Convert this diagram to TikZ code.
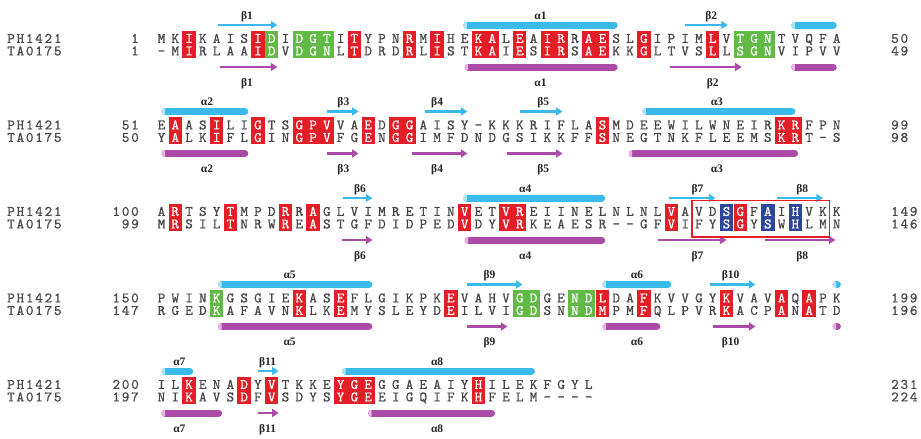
\documentclass[tikz,border=0pt]{standalone}
\usepackage{fontspec}
\usetikzlibrary{arrows.meta}
\newfontfamily\seqfont{lmmono10-regular.otf}[FakeBold=0.7]
\newfontfamily\namefont{lmmono10-regular.otf}[LetterSpace=12,FakeBold=0.7]
\newfontfamily\labfont{Liberation Serif}

\definecolor{consred}{RGB}{228,30,38}
\definecolor{consgreen}{RGB}{98,186,70}
\definecolor{consblue}{RGB}{44,70,158}
\definecolor{topc}{RGB}{58,186,232}
\definecolor{toplt}{RGB}{175,228,248}
\definecolor{botc}{RGB}{172,74,168}
\definecolor{botlt}{RGB}{236,178,226}
\definecolor{seqgray}{RGB}{70,70,70}

% x position of alignment column #1
\newcommand\cx[1]{161.5+(#1-1)*13.78}

% one row of residues: y, first column, style, letters ('.' = left to a shaded block)
\newcount\seqcol
\newcommand\seqrow[4]{%
  \seqcol=#2\relax
  \def\seqy{#1}%
  \tikzset{seqcur/.style={#3}}%
  \seqloop#4\relax}
\def\seqloop#1{\ifx#1\relax\else
  \ifx#1.\else\node[seqcur] at ({\cx{\the\seqcol}},{\seqy}) {#1};\fi
  \advance\seqcol by 1\relax
  \expandafter\seqloop\fi}

% shaded block over both rows: y0, first col, last col, colour, upper, lower
\newcommand\consbox[6]{%
  \fill[#4] ({\cx{#2}-6.7},{#1-7.8}) rectangle ({\cx{#3}+6.7},{#1+19});
  \seqrow{#1}{#2}{boxtxt}{#5}%
  \seqrow{#1+12.5}{#2}{boxtxt}{#6}}

% helix cylinder: y, from col, to col, colour, light end colour
\newcommand\helix[5]{%
  \draw[line width=7pt, line cap=round, #4] ({\cx{#2}+3.5},{#1}) -- ({\cx{#3}-3.5},{#1});
  \fill[#5] ({\cx{#2}+3.5},{#1}) ++(0,-3.5) arc[start angle=90, end angle=270, radius=3.5pt] -- cycle;}

% beta strand arrow: y, from col, to col, colour
\newcommand\strand[4]{%
  \draw[line width=2.6pt, #4, -{Triangle[length=6.5pt,width=8pt]}] ({\cx{#2}},{#1}) -- ({\cx{#3}},{#1});}

% structure label: y, col, text
\newcommand\sslabel[3]{\node[sslab] at ({\cx{#2}},{#1}) {#3};}

\tikzset{
  seqtxt/.style={font=\seqfont\fontsize{14.5}{14.5}\selectfont, text=seqgray,
    anchor=base, yshift=-4.4pt, inner sep=0pt},
  boxtxt/.style={seqtxt, text=white},
  namefnt/.style={font=\namefont\fontsize{14.5}{14.5}\selectfont, text=seqgray,
    anchor=base west, yshift=-4.4pt, inner sep=0pt},
  numl/.style={namefnt, anchor=base east},
  numr/.style={namefnt, anchor=base west},
  sslab/.style={font=\labfont\bfseries\fontsize{11.5}{12}\selectfont, text=black!85,
    anchor=base, yshift=-3.8pt, inner sep=0pt},
}

\begin{document}
\begin{tikzpicture}[x=1pt, y=-1pt]
\useasboundingbox (0,0) rectangle (921,439);

%% ---------- residues 1-50 ----------
\begin{scope}[shift={(0,38.5)}]
  \node[namefnt] (n1a) at (7,0) {PH1421};
  \node[namefnt] (n1b) at (7,12.5) {TA0175};
  \node[numl] (l1a) at (139,0) {1};
  \node[numl] (l1b) at (139,12.5) {1};
  \node[numr] (r1a) at (891,0) {50};
  \node[numr] (r1b) at (891,12.5) {49};
  \strand{-13.5}{5.1}{9.4}{topc}            \sslabel{-23}{7.2}{β1}
  \helix{-13.5}{22.9}{34.1}{topc}{toplt}   \sslabel{-23}{28.5}{α1}
  \strand{-13.5}{39}{42.1}{topc}            \sslabel{-23}{40.9}{β2}
  \helix{-13.5}{46.7}{50}{topc}{toplt}
  \strand{28.5}{5.25}{9.4}{botc}            \sslabel{44}{7.2}{β1}
  \helix{28.5}{23}{34.1}{botc}{botlt}      \sslabel{44}{28.5}{α1}
  \strand{28.5}{37.9}{43.1}{botc}           \sslabel{44}{41}{β2}
  \helix{28.5}{46.7}{50}{botc}{botlt}
  \seqrow{0}{1}{seqtxt}{MK.KAIS..I...I.YPN.M.HE..L.A..R..SL.IPIM.V...TVQFA}
  \seqrow{12.5}{1}{seqtxt}{-M.RLAA..V...L.DRD.L.ST..I.S..S..KK.LTVS.L...VIPVV}
  \consbox{0}{3}{3}{consred}{I}{I}
  \consbox{0}{8}{8}{consred}{I}{I}
  \consbox{0}{9}{9}{consgreen}{D}{D}
  \consbox{0}{11}{13}{consgreen}{DGT}{DGN}
  \consbox{0}{15}{15}{consred}{T}{T}
  \consbox{0}{19}{19}{consred}{R}{R}
  \consbox{0}{21}{21}{consred}{I}{I}
  \consbox{0}{24}{25}{consred}{KA}{KA}
  \consbox{0}{27}{27}{consred}{E}{E}
  \consbox{0}{29}{30}{consred}{IR}{IR}
  \consbox{0}{32}{33}{consred}{AE}{AE}
  \consbox{0}{36}{36}{consred}{G}{G}
  \consbox{0}{41}{41}{consred}{L}{L}
  \consbox{0}{43}{45}{consgreen}{TGN}{SGN}
\end{scope}

%% ---------- residues 51-99 ----------
\begin{scope}[shift={(0,125)}]
  \node[namefnt] (n2a) at (7,0) {PH1421};
  \node[namefnt] (n2b) at (7,12.5) {TA0175};
  \node[numl] (l2a) at (139,0) {51};
  \node[numl] (l2b) at (139,12.5) {50};
  \node[numr] (r2a) at (891,0) {99};
  \node[numr] (r2b) at (891,12.5) {98};
  \helix{-13.5}{1}{7.3}{topc}{toplt}       \sslabel{-23}{4.3}{α2}
  \strand{-13.5}{13}{15.3}{topc}            \sslabel{-23}{14.2}{β3}
  \strand{-13.5}{20.1}{23.2}{topc}          \sslabel{-23}{21}{β4}
  \strand{-13.5}{27}{30.1}{topc}            \sslabel{-23}{28.7}{β5}
  \helix{-13.5}{35.9}{47}{topc}{toplt}     \sslabel{-23}{41.3}{α3}
  \helix{28.5}{1}{7.3}{botc}{botlt}        \sslabel{44}{4.3}{α2}
  \strand{28.5}{13}{15.3}{botc}             \sslabel{44}{14.2}{β3}
  \strand{28.5}{19.2}{23.2}{botc}           \sslabel{44}{21}{β4}
  \strand{28.5}{26.1}{30.1}{botc}           \sslabel{44}{28.7}{β5}
  \helix{28.5}{34.9}{47.2}{botc}{botlt}    \sslabel{44}{41.3}{α3}
  \seqrow{0}{1}{seqtxt}{E.AS.LI.TS...VA.D..AISY-KKKRIFLA.MDEEWILWNEIR..FPN}
  \seqrow{12.5}{1}{seqtxt}{Y.LK.FL.IN...FG.N..IMFDNDGSIKKFF.NEGTNKFLEEMS..T-S}
  \consbox{0}{2}{2}{consred}{A}{A}
  \consbox{0}{5}{5}{consred}{I}{I}
  \consbox{0}{8}{8}{consred}{G}{G}
  \consbox{0}{11}{13}{consred}{GPV}{GPV}
  \consbox{0}{16}{16}{consred}{E}{E}
  \consbox{0}{18}{19}{consred}{GG}{GG}
  \consbox{0}{33}{33}{consred}{S}{S}
  \consbox{0}{46}{47}{consred}{KR}{KR}
\end{scope}

%% ---------- residues 100-149 ----------
\begin{scope}[shift={(0,211.5)}]
  \node[namefnt] (n3a) at (7,0) {PH1421};
  \node[namefnt] (n3b) at (7,12.5) {TA0175};
  \node[numl] (l3a) at (139,0) {100};
  \node[numl] (l3b) at (139,12.5) {99};
  \node[numr] (r3a) at (891,0) {149};
  \node[numr] (r3b) at (891,12.5) {146};
  \strand{-13.5}{14.2}{16.3}{topc}          \sslabel{-23}{15.4}{β6}
  \helix{-13.5}{22.9}{33.2}{topc}{toplt}   \sslabel{-23}{27.4}{α4}
  \strand{-13.5}{37.8}{41.2}{topc}          \sslabel{-23}{39.9}{β7}
  \strand{-13.5}{45.7}{49}{topc}            \sslabel{-23}{47.5}{β8}
  \strand{28.5}{14.1}{16.3}{botc}           \sslabel{44}{15.4}{β6}
  \helix{28.5}{23}{33.2}{botc}{botlt}      \sslabel{44}{27.4}{α4}
  \strand{28.5}{37}{42}{botc}               \sslabel{44}{39.9}{β7}
  \strand{28.5}{44.8}{49.9}{botc}           \sslabel{44}{47.5}{β8}
  \seqrow{0}{1}{seqtxt}{A.TSY.MPD.R.GLVIMRETIN.ET..EIINELNLNL.AVD..F.I.VKK}
  \seqrow{12.5}{1}{seqtxt}{M.SIL.NRW.E.STGFDIDPED.DY..KEAESR--GF.IFY..Y.W.LMN}
  \consbox{0}{2}{2}{consred}{R}{R}
  \consbox{0}{6}{6}{consred}{T}{T}
  \consbox{0}{10}{10}{consred}{R}{R}
  \consbox{0}{12}{12}{consred}{A}{A}
  \consbox{0}{23}{23}{consred}{V}{V}
  \consbox{0}{26}{27}{consred}{VR}{VR}
  \consbox{0}{38}{38}{consred}{V}{V}
  \consbox{0}{42}{42}{consblue}{S}{S}
  \consbox{0}{43}{43}{consred}{G}{G}
  \consbox{0}{45}{45}{consblue}{A}{S}
  \consbox{0}{47}{47}{consblue}{H}{H}
  \draw[consred, line width=1.3pt] ({\cx{39.5}},-11) rectangle ({\cx{49.45}},25.5);
\end{scope}

%% ---------- residues 150-199 ----------
\begin{scope}[shift={(0,298)}]
  \node[namefnt] (n4a) at (7,0) {PH1421};
  \node[namefnt] (n4b) at (7,12.5) {TA0175};
  \node[numl] (l4a) at (139,0) {150};
  \node[numl] (l4b) at (139,12.5) {147};
  \node[numr] (r4a) at (891,0) {199};
  \node[numr] (r4b) at (891,12.5) {196};
  \helix{-13.5}{5.1}{16.3}{topc}{toplt}    \sslabel{-23}{10.3}{α5}
  \strand{-13.5}{23.2}{27.2}{topc}          \sslabel{-23}{24.8}{β9}
  \helix{-13.5}{33}{38}{topc}{toplt}       \sslabel{-23}{35.5}{α6}
  \strand{-13.5}{40.8}{44.1}{topc}          \sslabel{-23}{42.3}{β10}
  \helix{-13.5}{49.7}{50.3}{topc}{toplt}
  \helix{28.5}{5.1}{16.3}{botc}{botlt}     \sslabel{44}{10.3}{α5}
  \strand{28.5}{23.2}{26.1}{botc}           \sslabel{44}{24.8}{β9}
  \helix{28.5}{33}{37.2}{botc}{botlt}      \sslabel{44}{35.5}{α6}
  \strand{28.5}{41}{44.1}{botc}             \sslabel{44}{42.3}{β10}
  \helix{28.5}{49.7}{50.3}{botc}{botlt}
  \seqrow{0}{1}{seqtxt}{PWIN.GSGIE.AS.FLGIKPK.VAHV..GE...DA.KVVGY.VAV.Q.PK}
  \seqrow{12.5}{1}{seqtxt}{RGED.AFAVN.LK.MYSLEYD.ILVI..SN...PM.QLPVR.ACP.N.TD}
  \consbox{0}{5}{5}{consgreen}{K}{K}
  \consbox{0}{11}{11}{consred}{K}{K}
  \consbox{0}{14}{14}{consred}{E}{E}
  \consbox{0}{22}{22}{consred}{E}{E}
  \consbox{0}{27}{28}{consgreen}{GD}{GD}
  \consbox{0}{31}{32}{consgreen}{ND}{ND}
  \consbox{0}{33}{33}{consred}{L}{M}
  \consbox{0}{36}{36}{consred}{F}{F}
  \consbox{0}{42}{42}{consred}{K}{K}
  \consbox{0}{46}{46}{consred}{A}{A}
  \consbox{0}{48}{48}{consred}{A}{A}
\end{scope}

%% ---------- residues 200-231 ----------
\begin{scope}[shift={(0,384.5)}]
  \node[namefnt] (n5a) at (7,0) {PH1421};
  \node[namefnt] (n5b) at (7,12.5) {TA0175};
  \node[numl] (l5a) at (139,0) {200};
  \node[numl] (l5b) at (139,12.5) {197};
  \node[numr] (r5a) at (891,0) {231};
  \node[numr] (r5b) at (891,12.5) {224};
  \helix{-13.5}{1}{3.3}{topc}{toplt}       \sslabel{-23}{2.3}{α7}
  \strand{-13.5}{8}{9.5}{topc}              \sslabel{-23}{8.7}{β11}
  \helix{-13.5}{14.1}{28.1}{topc}{toplt}   \sslabel{-23}{21}{α8}
  \helix{28.5}{1}{5.4}{botc}{botlt}        \sslabel{44}{2.3}{α7}
  \strand{28.5}{8}{9.5}{botc}               \sslabel{44}{8.7}{β11}
  \helix{28.5}{16}{25.2}{botc}{botlt}      \sslabel{44}{21}{α8}
  \seqrow{0}{1}{seqtxt}{IL.ENA.Y.TKKE...GGAEAIY.ILEKFGYL}
  \seqrow{12.5}{1}{seqtxt}{NI.AVS.F.SDYS...EIGQIFK.FELM----}
  \consbox{0}{3}{3}{consred}{K}{K}
  \consbox{0}{7}{7}{consred}{D}{D}
  \consbox{0}{9}{9}{consred}{V}{V}
  \consbox{0}{14}{16}{consred}{YGE}{YGE}
  \consbox{0}{24}{24}{consred}{H}{H}
\end{scope}
\end{tikzpicture}
\end{document}
